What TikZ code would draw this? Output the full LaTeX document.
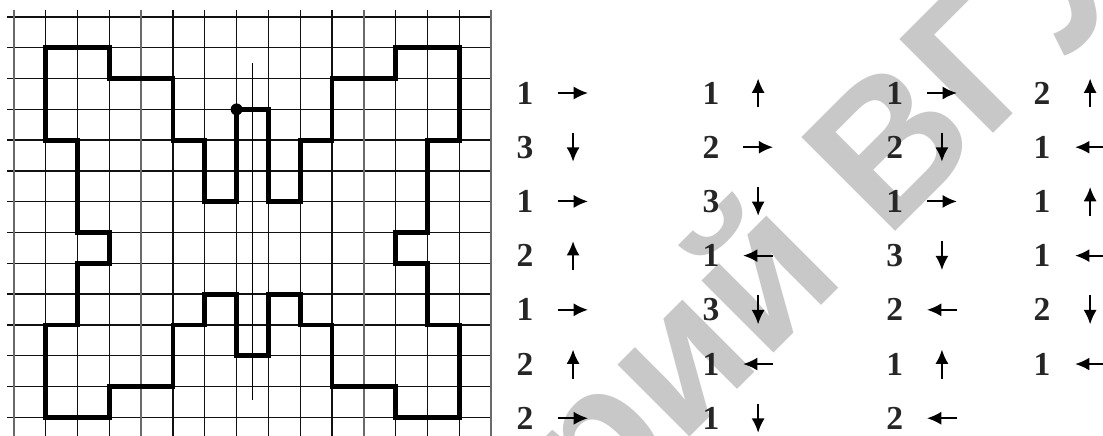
\documentclass[tikz,border=0pt]{standalone}
\usepackage{fontspec}
\usepackage{tikz}
\usetikzlibrary{arrows.meta}
\newfontfamily\digitfont{Liberation Serif}
\newfontfamily\stampfont{Liberation Sans}
\definecolor{GridDark}{HTML}{111111}
\definecolor{GridPale}{HTML}{6A6A6A}
\definecolor{StampGray}{HTML}{C8C8C8}

\begin{document}
\begin{tikzpicture}[
    x=0.8cm, y=0.7748cm,
    gridline/.style={GridDark, line width=1pt},
    paleline/.style={GridPale, line width=1pt},
    route/.style={black, line width=3.4pt, line join=miter},
    midline/.style={black, line width=0.6pt},
    dot/.style={circle, fill=black, inner sep=0pt, minimum size=0.3cm},
    num/.style={inner sep=0pt, text=black!85, font=\digitfont\bfseries\fontsize{24}{24}\selectfont},
    dirarrow/.style={-{Latex[length=3.6mm,width=3.3mm]}, line width=1.4pt, black},
    stamp/.style={StampGray, inner sep=0pt, rotate=45, anchor=base west, font=\stampfont\bfseries\fontsize{138}{138}\selectfont}
  ]
  \useasboundingbox (-0.44,0.552) rectangle (34.245,-13.604);

  % watermark
  \node[stamp] (mark) at (27.42,-7.27) {\llap{Репозиторий }ВГУ};

  % grid
  \foreach \j in {0,...,13}
    \draw[gridline] (-0.22,-\j) -- (15,-\j);
  \foreach \i in {1,2,3,5,6,7,8,9,10,12,13,14}
    \draw[gridline] (\i,0.23) -- (\i,-13.604);
  \foreach \i in {0,4,11,15}
    \draw[paleline] (\i,0.23) -- (\i,-13.604);

  % symmetry line
  \draw[midline] (7.5,-1.5) -- (7.5,-12.45);

  % route
  \draw[route] (7,-3) -- (8,-3) -- (8,-6) -- (9,-6) -- (9,-4) -- (10,-4) -- (10,-2)
    -- (12,-2) -- (12,-1) -- (14,-1) -- (14,-4) -- (13,-4) -- (13,-7) -- (12,-7)
    -- (12,-8) -- (13,-8) -- (13,-10) -- (14,-10) -- (14,-13) -- (12,-13) -- (12,-12)
    -- (10,-12) -- (10,-10) -- (9,-10) -- (9,-9) -- (8,-9) -- (8,-11) -- (7,-11)
    -- (7,-9) -- (6,-9) -- (6,-10) -- (5,-10) -- (5,-12) -- (3,-12) -- (3,-13)
    -- (1,-13) -- (1,-10) -- (2,-10) -- (2,-8) -- (3,-8) -- (3,-7) -- (2,-7)
    -- (2,-4) -- (1,-4) -- (1,-1) -- (3,-1) -- (3,-2) -- (5,-2) -- (5,-4)
    -- (6,-4) -- (6,-6) -- (7,-6) -- cycle;
  \node[dot] (start) at (7,-3) {};

  % steps
  \foreach \n/\a [count=\k] in {1/0,3/270,1/0,2/90,1/0,2/90,2/0} {
    \node[num] (a\k) at (16.07,{-2.468-1.76*(\k-1)}) {\n};
    \coordinate (ta\k) at (17.58,{-2.468-1.76*(\k-1)});
    \draw[dirarrow] (ta\k) ++(\a+180:0.47) -- ++(\a:0.94);
  }
  \foreach \n/\a [count=\k] in {1/90,2/0,3/270,1/180,3/270,1/180,1/270} {
    \node[num] (b\k) at (21.92,{-2.468-1.76*(\k-1)}) {\n};
    \coordinate (tb\k) at (23.40,{-2.468-1.76*(\k-1)});
    \draw[dirarrow] (tb\k) ++(\a+180:0.47) -- ++(\a:0.94);
  }
  \foreach \n/\a [count=\k] in {1/0,2/270,1/0,3/270,2/180,1/90,2/180} {
    \node[num] (c\k) at (27.70,{-2.468-1.76*(\k-1)}) {\n};
    \coordinate (tc\k) at (29.18,{-2.468-1.76*(\k-1)});
    \draw[dirarrow] (tc\k) ++(\a+180:0.47) -- ++(\a:0.94);
  }
  \foreach \n/\a [count=\k] in {2/90,1/180,1/90,1/180,2/270,1/180} {
    \node[num] (d\k) at (32.33,{-2.468-1.76*(\k-1)}) {\n};
    \coordinate (td\k) at (33.84,{-2.468-1.76*(\k-1)});
    \draw[dirarrow] (td\k) ++(\a+180:0.47) -- ++(\a:0.94);
  }

\end{tikzpicture}
\end{document}
